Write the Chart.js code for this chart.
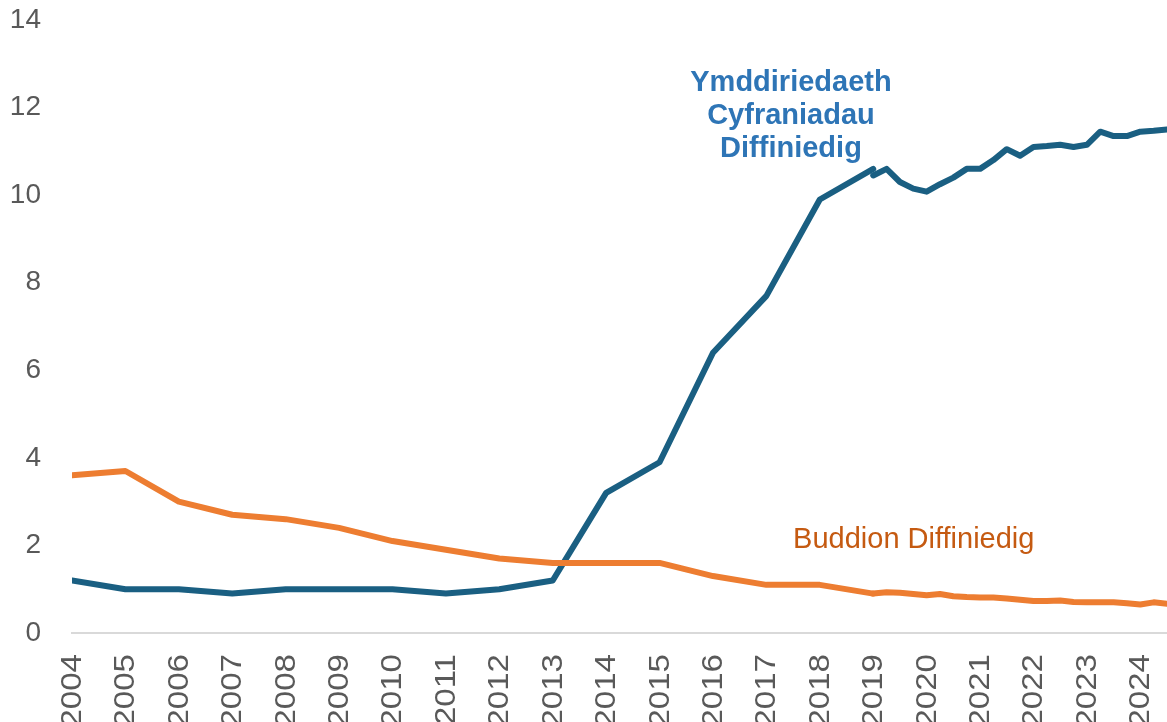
<!DOCTYPE html>
<html>
<head>
<meta charset="utf-8">
<script src="https://cdn.jsdelivr.net/npm/chart.js@4.4.0/dist/chart.umd.min.js"></script>
<style>
  html, body { margin: 0; padding: 0; background: #fff; overflow: hidden; }
  #wrap { width: 1167px; height: 722px; }
</style>
</head>
<body>
<div id="wrap"><canvas id="chart" width="1167" height="722"></canvas></div>
<script>
const annualYears = [2004, 2005, 2006, 2007, 2008, 2009, 2010, 2011, 2012, 2013, 2014, 2015, 2016, 2017, 2018, 2019];
const trustAnnual = [1.2, 1.0, 1.0, 0.9, 1.0, 1.0, 1.0, 0.9, 1.0, 1.2, 3.2, 3.9, 6.4, 7.7, 9.9, 10.6];
const benefitAnnual = [3.6, 3.7, 3.0, 2.7, 2.6, 2.4, 2.1, 1.9, 1.7, 1.6, 1.6, 1.6, 1.3, 1.1, 1.1, 0.9];

const quarters = [
  "2019 Q1", "2019 Q2", "2019 Q3", "2019 Q4",
  "2020 Q1", "2020 Q2", "2020 Q3", "2020 Q4",
  "2021 Q1", "2021 Q2", "2021 Q3", "2021 Q4",
  "2022 Q1", "2022 Q2", "2022 Q3", "2022 Q4",
  "2023 Q1", "2023 Q2", "2023 Q3", "2023 Q4",
  "2024 Q1", "2024 Q2", "2024 Q3"
];
const trustQuarterly = [10.45, 10.6, 10.3, 10.15, 10.08, 10.25, 10.4, 10.6, 10.6, 10.8, 11.05, 10.9,
  11.1, 11.12, 11.15, 11.1, 11.15, 11.45, 11.35, 11.35, 11.45, 11.47, 11.5];
const benefitQuarterly = [0.9, 0.93, 0.92, 0.89, 0.86, 0.89, 0.84, 0.82, 0.81, 0.81, 0.79, 0.76,
  0.73, 0.73, 0.74, 0.71, 0.70, 0.70, 0.70, 0.68, 0.65, 0.70, 0.67];

const yearLabels = ["2004", "2005", "2006", "2007", "2008", "2009", "2010", "2011", "2012", "2013", "2014",
  "2015", "2016", "2017", "2018", "2019", "2020", "2021", "2022", "2023", "2024"];

const blue = "#1a5f82";
const orange = "#ed7d31";
const font = "'Liberation Sans', Arial, sans-serif";

// quarter label -> position on the year axis
const qx = q => Number(q.slice(0, 4)) + (Number(q.slice(6)) - 1) / 4;
const annualPts = vals => annualYears.map((y, i) => ({ x: y, y: vals[i] }));
const quarterPts = vals => quarters.map((q, i) => ({ x: qx(q), y: vals[i] }));

const lineStyle = color => ({
  borderColor: color,
  borderWidth: 6,
  pointRadius: 0,
  tension: 0,
  borderCapStyle: "round",
  borderJoinStyle: "round",
  fill: false
});

// year labels, a little stretched along their length like the original
const xLabels = {
  id: "xLabels",
  afterDraw(chart) {
    const ctx = chart.ctx;
    const xs = chart.scales.x;
    const top = chart.chartArea.bottom + 21;
    ctx.save();
    ctx.fillStyle = "#595959";
    ctx.font = "29px " + font;
    ctx.textAlign = "right";
    ctx.textBaseline = "middle";
    yearLabels.forEach(lbl => {
      const px = xs.getPixelForValue(Number(lbl));
      ctx.save();
      ctx.translate(px, top);
      ctx.rotate(-Math.PI / 2);
      ctx.scale(1.14, 1);
      ctx.fillText(lbl, 0, 1);
      ctx.restore();
    });
    ctx.restore();
  }
};

const seriesNames = {
  id: "seriesNames",
  afterDraw(chart) {
    const ctx = chart.ctx;
    const xs = chart.scales.x, ys = chart.scales.y;
    ctx.save();
    ctx.textBaseline = "alphabetic";
    ctx.fillStyle = "#2e75b6";
    ctx.font = "bold 29px " + font;
    ctx.textAlign = "center";
    const cx = xs.getPixelForValue(2017.46);
    const by = ys.getPixelForValue(12.37);
    ["Ymddiriedaeth", "Cyfraniadau", "Diffiniedig"].forEach((t, i) => ctx.fillText(t, cx, by + i * 33));
    ctx.fillStyle = "#c55a11";
    ctx.font = "29px " + font;
    ctx.textAlign = "left";
    ctx.fillText("Buddion Diffiniedig", xs.getPixelForValue(2017.5), ys.getPixelForValue(1.93));
    ctx.restore();
  }
};

new Chart(document.getElementById("chart"), {
  type: "line",
  data: {
    datasets: [
      { label: "Buddion Diffiniedig", data: annualPts(benefitAnnual), ...lineStyle(orange) },
      { label: "Buddion Diffiniedig (chwarterol)", data: quarterPts(benefitQuarterly), ...lineStyle(orange) },
      { label: "Ymddiriedaeth Cyfraniadau Diffiniedig", data: annualPts(trustAnnual), ...lineStyle(blue) },
      { label: "Ymddiriedaeth Cyfraniadau Diffiniedig (chwarterol)", data: quarterPts(trustQuarterly), ...lineStyle(blue) }
    ]
  },
  options: {
    responsive: false,
    animation: false,
    layout: { padding: { top: 20, right: 0, left: 0, bottom: 0 } },
    plugins: { legend: { display: false }, tooltip: { enabled: false } },
    scales: {
      x: {
        type: "linear",
        min: 2004,
        max: 2024.5,
        grid: { display: false },
        border: { display: true, color: "#d9d9d9", width: 2 },
        ticks: { display: false, stepSize: 1 },
        afterFit: s => { s.height = 89; s.paddingLeft = 0; s.paddingRight = 0; }
      },
      y: {
        min: 0,
        max: 14,
        grid: { display: false, drawTicks: false },
        border: { display: false },
        ticks: {
          stepSize: 2,
          padding: 31,
          color: "#595959",
          font: { family: font, size: 28 }
        },
        afterFit: s => { s.width = 72; s.paddingTop = 0; s.paddingBottom = 0; }
      }
    }
  },
  plugins: [xLabels, seriesNames]
});
</script>
</body>
</html>
